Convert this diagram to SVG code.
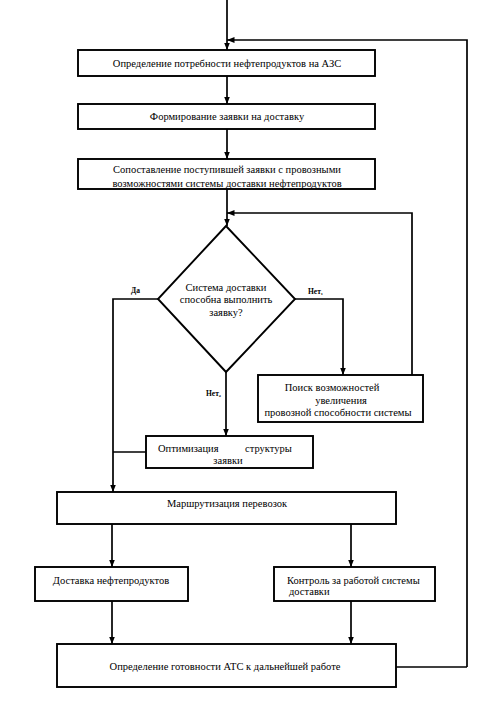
<svg xmlns="http://www.w3.org/2000/svg" width="495" height="701" viewBox="0 0 495 701">
<defs>
<marker id="ah" viewBox="0 0 10 8" refX="10" refY="4" markerWidth="7.5" markerHeight="6" markerUnits="userSpaceOnUse" orient="auto">
<path d="M0,0 L10,4 L0,8 z" fill="#000"/>
</marker>
<style>
.box{fill:#fff;stroke:#000;stroke-width:1.9}
.c{fill:none;stroke:#000;stroke-width:1.7}
.a{fill:none;stroke:#000;stroke-width:1.7;marker-end:url(#ah)}
</style>
</defs>
<rect width="495" height="701" fill="#fff"/>
<g id="connectors">
<path class="c" d="M467,667 H396"/>
<path class="a" d="M227,0 V50"/>
<path class="a" d="M467,667 V40 H227"/>
<path class="a" d="M227,76 V104"/>
<path class="a" d="M227,129 V159"/>
<path class="a" d="M227,189 V226"/>
<path class="a" d="M412,375 V213 H227"/>
<path class="a" d="M158,299 H113 V492"/>
<path class="a" d="M295,299 H343 V375"/>
<path class="a" d="M226,372 V436"/>
<path class="c" d="M146,452 H113"/>
<path class="a" d="M112,524 V567"/>
<path class="a" d="M351,524 V567"/>
<path class="a" d="M112,601 V644"/>
<path class="a" d="M351,601 V644"/>
</g>
<g font-family="Liberation Serif, DejaVu Serif, serif" font-size="10.5" fill="#000">
<g id="n1" text-anchor="middle"><rect class="box" x="78" y="50" width="297" height="26"/><text x="227" y="67">Определение потребности нефтепродуктов на АЗС</text></g>
<g id="n2" text-anchor="middle"><rect class="box" x="78" y="104" width="297" height="25"/><text x="227" y="120">Формирование заявки на доставку</text></g>
<g id="n3" text-anchor="middle"><rect class="box" x="78" y="159" width="297" height="30"/><text x="227" y="173">Сопоставление поступившей заявки с провозными</text><text x="227" y="187">возможностями системы доставки нефтепродуктов</text></g>
<g id="n4" text-anchor="middle"><path class="box" d="M226,226 L295,299 L226,372 L158,299 z"/><text x="226" y="291">Система доставки</text><text x="226" y="303">способна выполнить</text><text x="226" y="316">заявку?</text></g>
<g id="n5" text-anchor="middle"><rect class="box" x="258" y="375" width="165" height="47"/><text x="332" y="391">Поиск возможностей</text><text x="341" y="404">увеличения</text><text x="338" y="416">провозной способности системы</text></g>
<g id="n6"><rect class="box" x="146" y="436" width="167" height="32"/><text x="158" y="452">Оптимизация</text><text x="245" y="452">структуры</text><text x="228" y="464" text-anchor="middle">заявки</text></g>
<g id="n7" text-anchor="middle"><rect class="box" x="57" y="492" width="339" height="32"/><text x="227" y="507">Маршрутизация перевозок</text></g>
<g id="n8" text-anchor="middle"><rect class="box" x="35" y="567" width="153" height="34"/><text x="111" y="584">Доставка нефтепродуктов</text></g>
<g id="n9"><rect class="box" x="274" y="567" width="161" height="34"/><text x="287" y="584">Контроль за работой системы</text><text x="289" y="595">доставки</text></g>
<g id="n10" text-anchor="middle"><rect class="box" x="57" y="644" width="339" height="43"/><text x="225" y="670">Определение готовности АТС к дальнейшей работе</text></g>
<g id="labels" font-size="7.5" font-weight="bold"><text x="131" y="293">Да</text><text x="308" y="294">Нет₁</text><text x="206" y="396">Нет₂</text></g>
</g>
</svg>
